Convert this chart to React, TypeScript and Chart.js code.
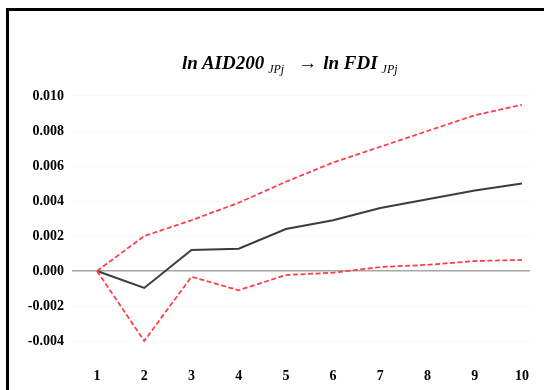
import React, { useEffect, useRef } from "react";
import { Chart, registerables } from "chart.js";

Chart.register(...registerables);

const periods = [1, 2, 3, 4, 5, 6, 7, 8, 9, 10];
const response = [0, -0.00097, 0.0012, 0.00127, 0.0024, 0.0029, 0.0036, 0.0041, 0.0046, 0.005];
const upperBand = [0, 0.002, 0.0029, 0.0039, 0.0051, 0.0062, 0.0071, 0.008, 0.0089, 0.0095];
const lowerBand = [0, -0.004, -0.00033, -0.0011, -0.00023, -0.0001, 0.00023, 0.00035, 0.00057, 0.00063];
const yTickValues = [-0.004, -0.002, 0, 0.002, 0.004, 0.006, 0.008, 0.01];

const tickFont = { family: "'Liberation Serif', serif", size: 14, weight: "bold" as const };

export default function App() {
  const canvasRef = useRef<HTMLCanvasElement | null>(null);

  useEffect(() => {
    if (!canvasRef.current) return;
    const toPts = (arr: number[]) => periods.map((p, i) => ({ x: p, y: arr[i] }));
    const chart = new Chart(canvasRef.current, {
      type: "line",
      data: {
        datasets: [
          {
            label: "upper",
            data: toPts(upperBand),
            borderColor: "rgb(255,60,70)",
            borderWidth: 1.75,
            borderDash: [5, 2.5],
            pointRadius: 0,
            tension: 0,
          },
          {
            label: "lower",
            data: toPts(lowerBand),
            borderColor: "rgb(255,60,70)",
            borderWidth: 1.75,
            borderDash: [5, 2.5],
            pointRadius: 0,
            tension: 0,
          },
          {
            label: "response",
            data: toPts(response),
            borderColor: "#3c3c3c",
            borderWidth: 2,
            pointRadius: 0,
            tension: 0,
          },
        ],
      },
      options: {
        responsive: false,
        animation: false,
        layout: { padding: { top: 89, right: 14, left: 0, bottom: 0 } },
        plugins: {
          legend: { display: false },
          title: { display: false },
          tooltip: { enabled: false },
        },
        scales: {
          x: {
            type: "linear",
            min: 0.47,
            max: 10.17,
            afterBuildTicks: (s: any) => {
              s.ticks = periods.map((v) => ({ value: v }));
            },
            afterFit: (s: any) => {
              s.height = 28;
            },
            grid: { display: false, drawTicks: false },
            border: { display: false },
            ticks: {
              font: tickFont,
              color: "#000",
              padding: 6,
              maxRotation: 0,
              autoSkip: false,
              callback: (v: any) => String(v),
            },
          },
          y: {
            min: -0.0052,
            max: 0.0104,
            afterBuildTicks: (s: any) => {
              s.ticks = yTickValues.map((v) => ({ value: v }));
            },
            afterFit: (s: any) => {
              s.width = 72;
            },
            grid: {
              drawTicks: false,
              color: (ctx: any) => (ctx.tick && ctx.tick.value === 0 ? "#a6a6a6" : "rgba(0,0,0,0.025)"),
              lineWidth: (ctx: any) => (ctx.tick && ctx.tick.value === 0 ? 1.5 : 1),
            },
            border: { display: false },
            ticks: {
              font: tickFont,
              color: "#000",
              padding: 8,
              callback: (v: any) => Number(v).toFixed(3),
            },
          },
        },
      },
    });
    return () => chart.destroy();
  }, []);

  const subStyle: React.CSSProperties = {
    fontSize: 12,
    fontStyle: "italic",
    position: "relative",
    top: 4,
    marginLeft: 4,
  };

  return (
    <div style={{ position: "absolute", left: 0, top: 0, width: 544, height: 390, overflow: "hidden", background: "#fff" }}>
      <canvas ref={canvasRef} width={544} height={390} style={{ position: "absolute", left: 0, top: 0 }} />
      <div
        style={{
          position: "absolute",
          left: 6,
          top: 8,
          width: 700,
          height: 500,
          borderTop: "3px solid #000",
          borderLeft: "3px solid #000",
          boxSizing: "border-box",
        }}
      />
      <div
        style={{
          position: "absolute",
          left: 182,
          top: 51,
          lineHeight: "24px",
          fontFamily: "'Liberation Serif', serif",
          fontSize: 19,
          color: "#000",
          whiteSpace: "nowrap",
        }}
      >
        <b><i>ln AID200</i></b>
        <span style={subStyle}>JPj</span>
        <span style={{ display: "inline-block", margin: "0 6px 0 14px", fontSize: 19 }}>{"\u2192"}</span>
        <b><i>ln FDI</i></b>
        <span style={subStyle}>JPj</span>
      </div>
    </div>
  );
}
